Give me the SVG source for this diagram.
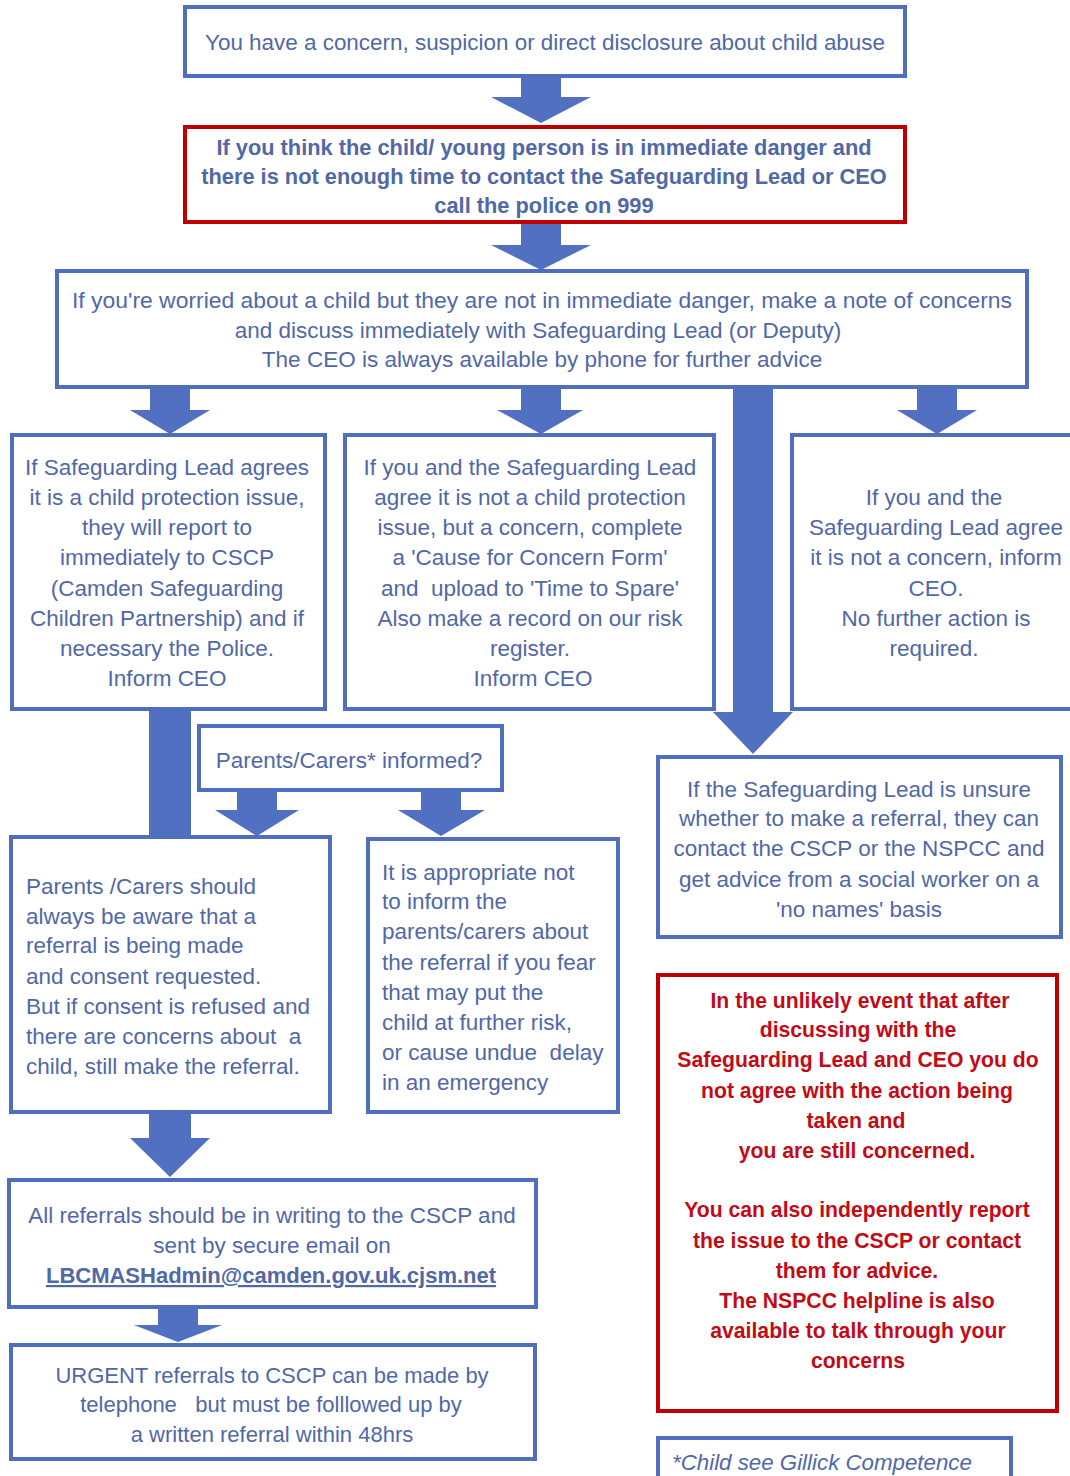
<svg xmlns="http://www.w3.org/2000/svg" width="1070" height="1476" viewBox="0 0 1070 1476">
<style>
.bx{fill:#fff;stroke:#4F6FBE;stroke-width:4}
.rd{fill:#fff;stroke:#C00000;stroke-width:4}
.ar{fill:#5270C2}
text{font-family:"Liberation Sans",Arial,sans-serif;font-size:22.5px;fill:#5068A8}
.c{text-anchor:middle}
.b{font-weight:bold;font-size:21.8px}
.r{fill:#C40A14;font-weight:bold;font-size:21.2px}
.u{text-decoration:underline;font-weight:bold;font-size:22px}
.i{font-style:italic;font-size:22.3px}
.s{font-size:22px}
</style>
<rect width="1070" height="1476" fill="#fff"/>
<g id="connectors">
<polygon class="ar" points="521,77 561,77 561,97 591,97 541,123 491,97 521,97"/>
<polygon class="ar" points="521,222 561,222 561,245 591,245 541,270 491,245 521,245"/>
<polygon class="ar" points="150,388 190,388 190,410 210,410 170,434 130,410 150,410"/>
<polygon class="ar" points="521,388 561,388 561,410 583,410 541,434 497,410 521,410"/>
<polygon class="ar" points="733,388 773,388 773,712 793,712 753,754 713,712 733,712"/>
<polygon class="ar" points="917,388 957,388 957,410 977,410 937,434 897,410 917,410"/>
<rect class="ar" x="149" y="708" width="42" height="130"/>
<polygon class="ar" points="237,791 277,791 277,810 299,810 257,836 215,810 237,810"/>
<polygon class="ar" points="421,791 461,791 461,810 485,810 441,836 398,810 421,810"/>
<polygon class="ar" points="149,1112 191,1112 191,1138 210,1138 170,1177 130,1138 149,1138"/>
<polygon class="ar" points="158,1308 198,1308 198,1325 222,1325 178,1342 134,1325 158,1325"/>
</g>
<g id="n1">
<rect class="bx" x="185" y="7" width="720" height="69"/>
<text class="c" x="545" y="50" textLength="680" lengthAdjust="spacingAndGlyphs">You have a concern, suspicion or direct disclosure about child abuse</text>
</g>
<g id="n2">
<rect class="rd" x="185" y="127" width="720" height="95"/>
<text class="c b" x="544" y="155">If you think the child/ young person is in immediate danger and</text>
<text class="c b" x="544" y="184">there is not enough time to contact the Safeguarding Lead or CEO</text>
<text class="c b" x="544" y="213">call the police on 999</text>
</g>
<g id="n3">
<rect class="bx" x="57" y="271" width="970" height="116"/>
<text class="c" x="542" y="308" textLength="940" lengthAdjust="spacingAndGlyphs">If you're worried about a child but they are not in immediate danger, make a note of concerns</text>
<text class="c" x="538" y="338">and discuss immediately with Safeguarding Lead (or Deputy)</text>
<text class="c" x="542" y="367">The CEO is always available by phone for further advice</text>
</g>
<g id="n4">
<rect class="bx" x="12" y="435" width="313" height="274"/>
<text class="c" x="167" y="475">If Safeguarding Lead agrees</text>
<text class="c" x="167" y="505">it is a child protection issue,</text>
<text class="c" x="167" y="535">they will report to</text>
<text class="c" x="167" y="565">immediately to CSCP</text>
<text class="c" x="167" y="596">(Camden Safeguarding</text>
<text class="c" x="167" y="626">Children Partnership) and if</text>
<text class="c" x="167" y="656">necessary the Police.</text>
<text class="c" x="167" y="686">Inform CEO</text>
</g>
<g id="n5">
<rect class="bx" x="345" y="435" width="369" height="274"/>
<text class="c" x="530" y="475">If you and the Safeguarding Lead</text>
<text class="c" x="530" y="505">agree it is not a child protection</text>
<text class="c" x="530" y="535">issue, but a concern, complete</text>
<text class="c" x="530" y="565">a 'Cause for Concern Form'</text>
<text class="c" x="530" y="596" xml:space="preserve">and  upload to 'Time to Spare'</text>
<text class="c" x="530" y="626">Also make a record on our risk</text>
<text class="c" x="530" y="656">register.</text>
<text class="c" x="533" y="686">Inform CEO</text>
</g>
<g id="n6">
<rect class="bx" x="792" y="435" width="290" height="274"/>
<text class="c" x="934" y="505">If you and the</text>
<text class="c" x="936" y="535">Safeguarding Lead agree</text>
<text class="c" x="936" y="565">it is not a concern, inform</text>
<text class="c" x="936" y="596">CEO.</text>
<text class="c" x="936" y="626">No further action is</text>
<text class="c" x="934" y="656">required.</text>
</g>
<g id="n7">
<rect class="bx" x="199" y="726" width="303" height="64"/>
<text class="c" x="349" y="768">Parents/Carers* informed?</text>
</g>
<g id="n8">
<rect class="bx" x="11" y="837" width="319" height="275"/>
<text x="26" y="894">Parents /Carers should</text>
<text x="26" y="924">always be aware that a</text>
<text x="26" y="953">referral is being made</text>
<text x="26" y="984">and consent requested.</text>
<text x="26" y="1014">But if consent is refused and</text>
<text x="26" y="1044" xml:space="preserve">there are concerns about  a</text>
<text x="26" y="1074">child, still make the referral.</text>
</g>
<g id="n9">
<rect class="bx" x="368" y="839" width="250" height="273"/>
<text x="382" y="880">It is appropriate not</text>
<text x="382" y="909">to inform the</text>
<text x="382" y="939">parents/carers about</text>
<text x="382" y="970">the referral if you fear</text>
<text x="382" y="1000">that may put the</text>
<text x="382" y="1030">child at further risk,</text>
<text x="382" y="1060" xml:space="preserve">or cause undue  delay</text>
<text x="382" y="1090">in an emergency</text>
</g>
<g id="n10">
<rect class="bx" x="658" y="757" width="403" height="180"/>
<text class="c" x="859" y="797">If the Safeguarding Lead is unsure</text>
<text class="c" x="859" y="826">whether to make a referral, they can</text>
<text class="c" x="859" y="856">contact the CSCP or the NSPCC and</text>
<text class="c" x="859" y="887">get advice from a social worker on a</text>
<text class="c" x="859" y="917">'no names' basis</text>
</g>
<g id="n11">
<rect class="rd" x="658" y="975" width="399" height="436"/>
<text class="c r" x="860" y="1008">In the unlikely event that after</text>
<text class="c r" x="858" y="1037">discussing with the</text>
<text class="c r" x="858" y="1067">Safeguarding Lead and CEO you do</text>
<text class="c r" x="857" y="1098">not agree with the action being</text>
<text class="c r" x="856" y="1128">taken and</text>
<text class="c r" x="857" y="1158">you are still concerned.</text>
<text class="c r" x="857" y="1217">You can also independently report</text>
<text class="c r" x="857" y="1248">the issue to the CSCP or contact</text>
<text class="c r" x="857" y="1278">them for advice.</text>
<text class="c r" x="857" y="1308">The NSPCC helpline is also</text>
<text class="c r" x="858" y="1338">available to talk through your</text>
<text class="c r" x="858" y="1368">concerns</text>
</g>
<g id="n12">
<rect class="bx" x="9" y="1180" width="527" height="127"/>
<text class="c" x="272" y="1223">All referrals should be in writing to the CSCP and</text>
<text class="c" x="272" y="1253">sent by secure email on</text>
<text class="c u" x="271" y="1283">LBCMASHadmin@camden.gov.uk.cjsm.net</text>
</g>
<g id="n13">
<rect class="bx" x="11" y="1345" width="524" height="114"/>
<text class="c s" x="272" y="1383">URGENT referrals to CSCP can be made by</text>
<text class="c s" x="271" y="1412" xml:space="preserve">telephone   but must be folllowed up by</text>
<text class="c s" x="272" y="1442">a written referral within 48hrs</text>
</g>
<g id="n14">
<rect class="bx" x="658" y="1438" width="353" height="50"/>
<text class="i" x="672" y="1470">*Child see Gillick Competence</text>
</g>
</svg>
